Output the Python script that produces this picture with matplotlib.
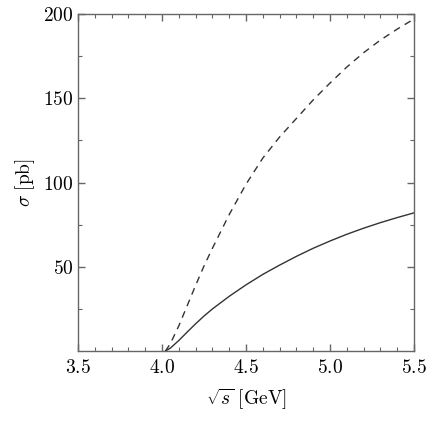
import numpy as np
import matplotlib
matplotlib.use('Agg')
import matplotlib.pyplot as plt
from matplotlib.ticker import MultipleLocator, FuncFormatter

# values
sqrt_s = [4.02, 4.05, 4.10, 4.15, 4.20, 4.25, 4.30, 4.40, 4.50, 4.60,
          4.70, 4.80, 4.90, 5.00, 5.10, 5.20, 5.30, 5.40, 5.50]
sigma_solid = [0, 1.8, 6.3, 11.3, 16.2, 20.8, 25, 32.5, 39.3, 45.5,
               51, 56.2, 61, 65.3, 69.3, 72.9, 76.2, 79.2, 82]
sigma_dashed = [0, 4.5, 15, 27, 39, 50.5, 61, 81, 99, 114.5,
                127, 138, 149, 159, 168.5, 177, 184.5, 191, 197]

plt.rcParams['mathtext.fontset'] = 'cm'
plt.rcParams['font.family'] = 'serif'

fig = plt.figure(figsize=(4.36, 4.23), dpi=100)
ax = fig.add_axes([0.179, 0.170, 0.7705, 0.797])

ax.plot(sqrt_s, sigma_solid, color='#333333', lw=1.0)
ax.plot(sqrt_s, sigma_dashed, color='#333333', lw=1.0, dashes=(5, 4))

ax.set_xlim(3.5, 5.5)
ax.set_ylim(0, 200)
ax.xaxis.set_major_locator(MultipleLocator(0.5))
ax.xaxis.set_minor_locator(MultipleLocator(0.1))
ax.set_yticks([50, 100, 150, 200])
ax.set_yticks([25, 75, 125, 175], minor=True)
ax.xaxis.set_major_formatter(FuncFormatter(lambda v, p: r'$%.1f$' % v))
ax.yaxis.set_major_formatter(FuncFormatter(lambda v, p: r'$%d$' % v))

for s in ax.spines.values():
    s.set_color('#666666')
    s.set_linewidth(1.0)
ax.tick_params(which='both', direction='in', top=True, right=True,
               color='#666666', labelsize=14)
ax.tick_params(which='major', length=5, width=1.0)
ax.tick_params(axis='x', which='major', pad=6)
ax.tick_params(axis='y', which='major', pad=3)
ax.tick_params(which='minor', length=3, width=0.8)

ax.set_xlabel(r'$\sqrt{s}\ [\mathrm{GeV}]$', fontsize=14, labelpad=6)
ax.set_ylabel(r'$\sigma\ [\mathrm{pb}]$', fontsize=14, labelpad=5)

fig.savefig('out.png', dpi=100)
